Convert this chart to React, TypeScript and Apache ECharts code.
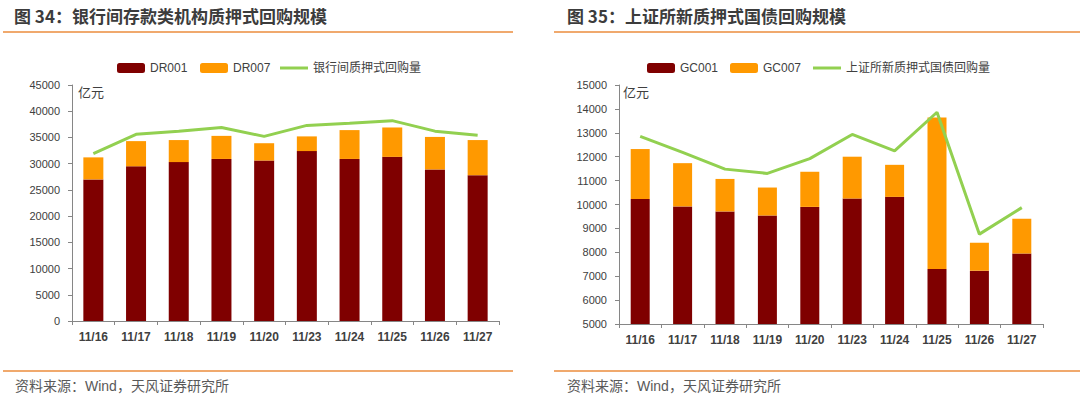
import React, { useEffect, useRef } from 'react';
import * as echarts from 'echarts';

const dates = ['11/16', '11/17', '11/18', '11/19', '11/20', '11/23', '11/24', '11/25', '11/26', '11/27'];
const dr001 = [27000, 29500, 30300, 30900, 30600, 32400, 30900, 31300, 28900, 27800];
const dr007 = [4200, 4800, 4200, 4400, 3300, 2800, 5500, 5600, 6200, 6700];
const interbankTotal = [31900, 35600, 36200, 36900, 35200, 37300, 37700, 38200, 36200, 35400];
const gc001 = [10230, 9920, 9710, 9540, 9900, 10250, 10320, 7300, 7230, 7950];
const gc007 = [2090, 1810, 1360, 1170, 1470, 1750, 1340, 6340, 1170, 1450];
const sseTotal = [12850, 12180, 11480, 11300, 11920, 12930, 12240, 13860, 8760, 9870];

const DARK = '#7F0000';
const ORANGE = '#FF9900';
const GREEN = '#92D050';
const RULE = '#EB8C3C';
const TXT = '#404040';
const AXIS = '#868686';
const FONT = '"Liberation Sans", "Noto Sans CJK SC", sans-serif';
const CJK = '"Noto Sans CJK SC", sans-serif';

export default function App() {
  const ref = useRef<HTMLDivElement>(null);
  useEffect(() => {
    if (!ref.current) return;
    const chart = echarts.init(ref.current, undefined, { renderer: 'svg' });
    const yAxisCommon = {
      type: 'value',
      splitLine: { show: false },
      axisLine: { show: true, lineStyle: { color: AXIS, width: 1 } },
      axisTick: { show: true, length: 4, lineStyle: { color: AXIS } },
      axisLabel: { color: TXT, fontSize: 11, fontFamily: FONT, margin: 12, formatter: (v: number) => String(v) },
    };
    const xAxisCommon = {
      type: 'category',
      data: dates,
      axisLine: { show: true, lineStyle: { color: AXIS, width: 1 } },
      axisTick: { show: true, length: 4, lineStyle: { color: AXIS } },
      axisLabel: { color: TXT, fontSize: 12, fontFamily: FONT, margin: 10, fontWeight: 'bold' },
    };
    const legendCommon = {
      itemWidth: 28,
      itemHeight: 10,
      top: 57,
      textStyle: { color: TXT, fontSize: 12, fontFamily: FONT },
      itemGap: 0,
    };
    const lineLegend = { ...legendCommon, icon: 'rect', itemHeight: 3 };
    chart.setOption({
      animation: false,
      grid: [
        { left: 72, top: 85, width: 427, height: 236 },
        { left: 619, top: 85, width: 424, height: 239 },
      ],
      xAxis: [
        { ...xAxisCommon, gridIndex: 0 },
        { ...xAxisCommon, gridIndex: 1 },
      ],
      yAxis: [
        { ...yAxisCommon, gridIndex: 0, min: 0, max: 45000, interval: 5000 },
        { ...yAxisCommon, gridIndex: 1, min: 5000, max: 15000, interval: 1000 },
      ],
      legend: [
        { ...legendCommon, left: 112, data: ['DR001'] },
        { ...legendCommon, left: 195, data: ['DR007'] },
        { ...lineLegend, left: 275, data: ['银行间质押式回购量'] },
        { ...legendCommon, left: 642, data: ['GC001'] },
        { ...legendCommon, left: 725, data: ['GC007'] },
        { ...lineLegend, left: 808, data: ['上证所新质押式国债回购量'] },
      ],
      series: [
        { name: 'DR001', type: 'bar', stack: 'a', xAxisIndex: 0, yAxisIndex: 0, data: dr001, barWidth: 20, itemStyle: { color: DARK } },
        { name: 'DR007', type: 'bar', stack: 'a', xAxisIndex: 0, yAxisIndex: 0, data: dr007, barWidth: 20, itemStyle: { color: ORANGE } },
        { name: '银行间质押式回购量', type: 'line', xAxisIndex: 0, yAxisIndex: 0, data: interbankTotal, symbol: 'none', lineStyle: { color: GREEN, width: 3 }, itemStyle: { color: GREEN } },
        { name: 'GC001', type: 'bar', stack: 'b', xAxisIndex: 1, yAxisIndex: 1, data: gc001, barWidth: 19, itemStyle: { color: DARK } },
        { name: 'GC007', type: 'bar', stack: 'b', xAxisIndex: 1, yAxisIndex: 1, data: gc007, barWidth: 19, itemStyle: { color: ORANGE } },
        { name: '上证所新质押式国债回购量', type: 'line', xAxisIndex: 1, yAxisIndex: 1, data: sseTotal, symbol: 'none', lineStyle: { color: GREEN, width: 3 }, itemStyle: { color: GREEN } },
      ],
      graphic: [
        { type: 'text', left: 14, top: 7, style: { text: '图 34：银行间存款类机构质押式回购规模', fill: '#3C3C3C', font: `bold 17px ${CJK}` } },
        { type: 'text', left: 567, top: 7, style: { text: '图 35：上证所新质押式国债回购规模', fill: '#3C3C3C', font: `bold 17px ${CJK}` } },
        { type: 'line', shape: { x1: 3, y1: 32, x2: 513, y2: 32 }, style: { stroke: RULE, lineWidth: 1.5 } },
        { type: 'line', shape: { x1: 554, y1: 32, x2: 1080, y2: 32 }, style: { stroke: RULE, lineWidth: 1.5 } },
        { type: 'line', shape: { x1: 3, y1: 371, x2: 513, y2: 371 }, style: { stroke: RULE, lineWidth: 1.5 } },
        { type: 'line', shape: { x1: 554, y1: 371, x2: 1080, y2: 371 }, style: { stroke: RULE, lineWidth: 1.5 } },
        { type: 'text', left: 78, top: 85, style: { text: '亿元', fill: TXT, font: `13px ${CJK}` } },
        { type: 'text', left: 623, top: 85, style: { text: '亿元', fill: TXT, font: `13px ${CJK}` } },
        { type: 'text', left: 15, top: 379, style: { text: '资料来源：Wind，天风证券研究所', fill: '#595959', font: `14px ${FONT}` } },
        { type: 'text', left: 567, top: 379, style: { text: '资料来源：Wind，天风证券研究所', fill: '#595959', font: `14px ${FONT}` } },
      ],
    });
    return () => chart.dispose();
  }, []);
  return (
    <div
      ref={ref}
      style={{ position: 'absolute', left: 0, top: 0, width: 1080, height: 399, background: '#fff' }}
    />
  );
}
